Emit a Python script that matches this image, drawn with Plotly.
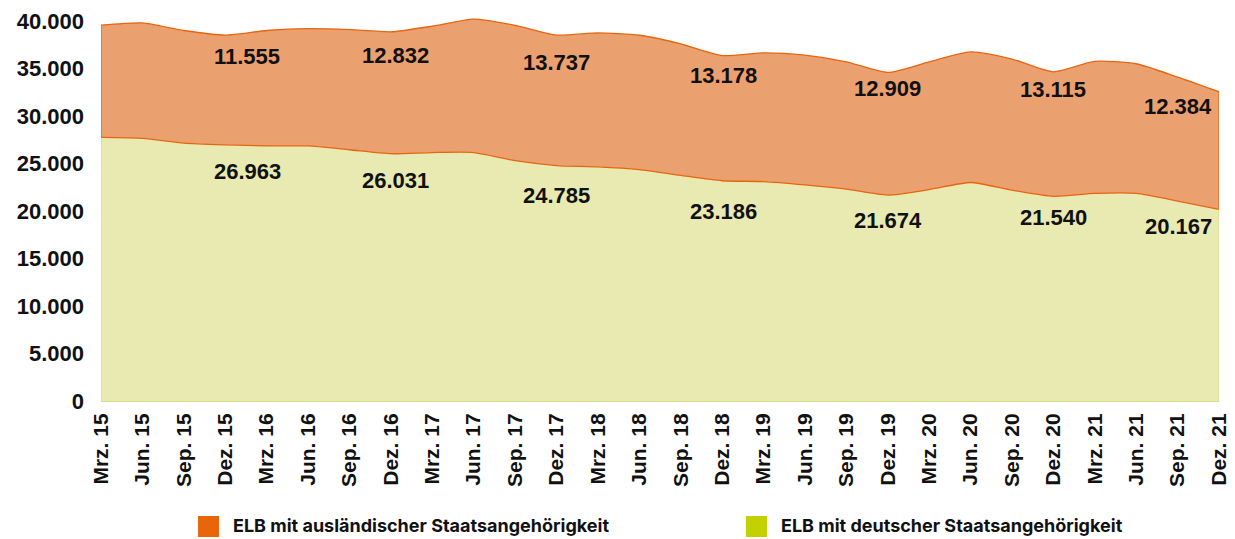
import plotly.graph_objects as go

categories = ["Mrz. 15", "Jun. 15", "Sep. 15", "Dez. 15", "Mrz. 16", "Jun. 16", "Sep. 16", "Dez. 16",
              "Mrz. 17", "Jun. 17", "Sep. 17", "Dez. 17", "Mrz. 18", "Jun. 18", "Sep. 18", "Dez. 18",
              "Mrz. 19", "Jun. 19", "Sep. 19", "Dez. 19", "Mrz. 20", "Jun. 20", "Sep. 20", "Dez. 20",
              "Mrz. 21", "Jun. 21", "Sep. 21", "Dez. 21"]

german = [27750, 27650, 27150, 26963, 26850, 26850, 26450, 26031,
          26150, 26150, 25300, 24785, 24650, 24350, 23750, 23186,
          23100, 22750, 22300, 21674, 22250, 23000, 22200, 21540,
          21850, 21850, 21050, 20167]

foreign = [11810, 12150, 11850, 11555, 12150, 12350, 12650, 12832,
           13300, 14050, 14250, 13737, 14100, 14150, 13850, 13178,
           13550, 13650, 13400, 12909, 13450, 13750, 13800, 13115,
           13900, 13650, 13050, 12384]

label_idx = [3, 7, 11, 15, 19, 23, 27]

y_ticks = [0, 5000, 10000, 15000, 20000, 25000, 30000, 35000, 40000]
name_foreign = "ELB mit ausländischer Staatsangehörigkeit"
name_german = "ELB mit deutscher Staatsangehörigkeit"

# styles
ORANGE_LINE = "#E8650F"
ORANGE_FILL = "#EBA070"
GREEN_FILL = "#E8EAB2"
GREEN_EDGE = "#D6DD85"
ORANGE_KEY = "#E8650A"
GREEN_KEY = "#C3D100"
TXT = "#111111"
FONT = "Liberation Sans"
label_xshift = [22, 5, 0, 1, 0, 0, -41]
foreign_yshift = [-21, -24, -27, -20, -16, -18, -15]
german_yshift = [-27, -27, -30, -31, -25, -21, -17]

def fmt(v):
    return f"{v:,.0f}".replace(",", ".")

x = list(range(len(categories)))
last = len(categories) - 1

fig = go.Figure()
fig.add_trace(go.Scatter(
    x=x, y=german, stackgroup="one", mode="lines",
    line=dict(color=ORANGE_LINE, width=1.3, shape="spline", smoothing=0.6),
    fillcolor=GREEN_FILL, showlegend=False, hoverinfo="skip"))
fig.add_trace(go.Scatter(
    x=x, y=foreign, stackgroup="one", mode="lines",
    line=dict(color=ORANGE_LINE, width=1.3, shape="spline", smoothing=0.6),
    fillcolor=ORANGE_FILL, showlegend=False, hoverinfo="skip"))

# side edges of the areas
for xi in (0, last):
    fig.add_shape(type="line", x0=xi, x1=xi, y0=0, y1=german[xi],
                  line=dict(color=GREEN_EDGE, width=1.2))
    fig.add_shape(type="line", x0=xi, x1=xi, y0=german[xi], y1=german[xi] + foreign[xi],
                  line=dict(color=ORANGE_LINE, width=1.2))

for k, i in enumerate(label_idx):
    total = german[i] + foreign[i]
    fig.add_annotation(x=i, y=total, text=fmt(foreign[i]), showarrow=False,
                       xshift=label_xshift[k], yshift=foreign_yshift[k],
                       font=dict(family=FONT, size=22, color=TXT, weight="bold"))
    fig.add_annotation(x=i, y=german[i], text=fmt(german[i]), showarrow=False,
                       xshift=label_xshift[k], yshift=german_yshift[k],
                       font=dict(family=FONT, size=22, color=TXT, weight="bold"))

# custom legend (squares + labels), in paper coordinates
legend_items = [(name_foreign, ORANGE_KEY, 0.0868), (name_german, GREEN_KEY, 0.5769)]
SQ_W = 0.0188
for name, col, x0 in legend_items:
    fig.add_shape(type="rect", xref="paper", yref="paper", x0=x0, x1=x0 + SQ_W,
                  y0=-0.3461, y1=-0.2926, fillcolor=col, line=dict(width=0))
    fig.add_annotation(xref="paper", yref="paper", x=x0 + SQ_W + 0.0107, y=-0.318,
                       xanchor="left", yanchor="middle", text=name, showarrow=False,
                       font=dict(family="Inter", size=18, weight="bold", color=TXT))

fig.update_layout(
    width=1227, height=531,
    margin=dict(l=93, r=16, t=0, b=138, autoexpand=False),
    plot_bgcolor="white", paper_bgcolor="white",
    font=dict(family=FONT, color=TXT),
    showlegend=False,
)
fig.update_xaxes(
    range=[0, last], tickmode="array", tickvals=x, ticktext=categories,
    tickangle=-90, showgrid=False, zeroline=False, automargin=False,
    showline=True, linecolor=GREEN_EDGE, linewidth=1,
    tickfont=dict(family=FONT, size=21, weight="bold", color=TXT),
    ticks="", ticklabelstandoff=3)
fig.update_yaxes(
    range=[0, 41370], tickmode="array", tickvals=y_ticks,
    ticktext=[fmt(v) for v in y_ticks], automargin=False,
    showgrid=False, zeroline=False, showline=False,
    tickfont=dict(family=FONT, size=22, weight="bold", color=TXT),
    ticks="", ticklabelstandoff=16)

fig.write_html("out.html")
